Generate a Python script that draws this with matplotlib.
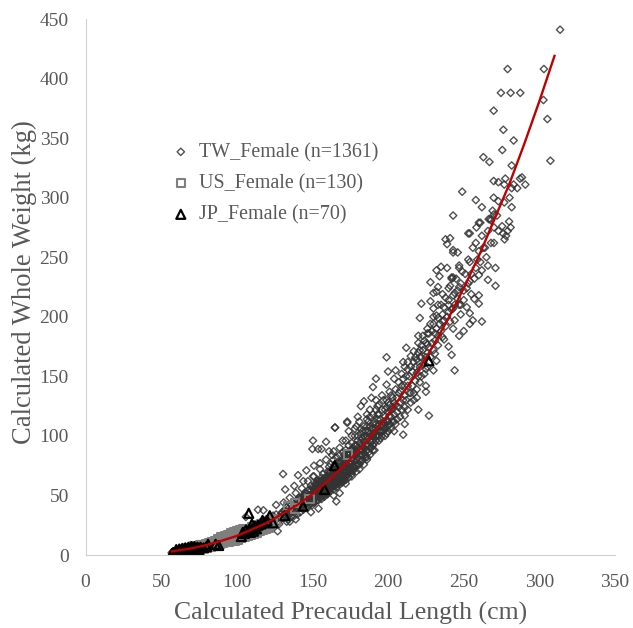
import matplotlib
matplotlib.use('Agg')
import matplotlib.pyplot as plt

plt.rcParams['font.family'] = ['Liberation Serif', 'DejaVu Serif']
GREY = '#595959'

# values (length cm, weight kg)
tw_high = [(313.7,441),(279,408),(303,408),(274.6,388),(281,388),(287.4,388),(302.7,382),(269.8,373),(305.3,366),
    (276.2,357),(283,348),(275.5,340),(263,334),(267,330),(307.3,331),(281.7,327),(269.8,314),(272.9,313),(277.5,316),
    (276.8,311),(283,311),(281.7,308),(285.4,308),(287.2,316),(288.5,317),(290.7,311),(249,305),(258,298),(269.8,300),
    (272.9,297),(276.8,296),(280.3,300),(281.7,292),(269.1,289),(243,285),(272,285),(266.5,282),(267.5,282),(261,279),
    (258.4,275),(280,280),(275.4,276),(270,275),(281,275),(276,270),(278,268),(279,272),(277,265),(270,262),(265,250),
    (268,281),(262,292)]
tw_upper = [(260,279),(253,270),(254,270),(238,265),(241,266),(239,261),(243,256),(246,254),(243,254),(260,255),(263,258),
    (254,246),(247,243),(247,241),(235,242),(239,241),(232,239),(234,234),(242,233),(242,232),(243,233),(262,239),
    (266,243),(271,241),(258,241),(260,235),(266,231),(254,230),(253,228),(228,229),(233,225),(240,224),(247,225),
    (271,226),(230,220),(232,221),(236,219),(244,220),(250,222),(255,219),(260,218),(257,215),(260,211),(246,215),
    (228,213),(222,211),(233,210),(240,210),(248,210),(252,208),(230,207),(243,207),(236,202),(240,204),(248,202),
    (254,203),(232,201),(221,199),(233,199),(237,197),(244,197),(256,197),(262,196),(254,194),(230,194),(243,190),
    (226,190),(250,188),(247,184),(220,184),(223,184),(226,186),(231,186),(236,183),(237,181),(233,176),(240,175),
    (220,178),(226,177),(212,174),(221,172),(217,171),(242,168),(199,166),(231,169),(215,167),(218,166),(222,166),
    (232,163),(213,162),(210,162),(211,158),(225,156),(230,155),(244,155),(200,154),(205,155),(219,153),(209,152),
    (192,148),(204,148),(221,145),(199,143),(190,141),(207,145),(225,142),(213,142),(219,139),(205,139),(225,137),
    (201,137),(215,136),(211,134),(184,129),(182,125),(193,125),(199,130),(217,130),(208,128),(220,122),(227,117),
    (180,116),(173,112),(165,107),(193,114),(201,117),(211,117),(204,112),(211,110),(210,101),(179,108),(183,104)]
tw_band = [(200,128),(198,122),(196,134),(194,118),(192,130),(190,110),(188,122),(186,114),(189,132),(197,112),(203,124),
    (206,120),(202,106),(199,102),(195,108),(192,100),(190,96),(187,104),(185,98),(183,92),(186,118),(181,112),(178,100),
    (176,94),(174,104),(172,88),(170,96),(168,84),(180,96),(177,86),(175,82),(173,76),(171,80),(169,72),(167,78),(165,70),
    (163,84),(161,74),(159,80),(157,68),(155,72),(153,62),(151,66),(149,58),(147,62),(145,52),(143,56),(141,48),(139,52),
    (137,44),(135,48),(133,40),(131,44),(182,84),(179,80),(176,74),(174,70),(172,66),(170,64),(168,62),(166,60),(164,58),
    (162,56),(160,54),(158,52),(156,50),(154,46),(152,48),(150,44),(148,42),(146,40),(144,38),(142,36),(140,34),(138,33),
    (136,32),(134,30),(178,92),(176,88),(174,84),(172,82),(170,76),(168,74),(166,66),(164,68),(162,64),(160,62),(158,60),
    (156,58),(154,56),(152,54),(150,52),(148,50),(146,48),(144,46),(142,44),(140,42),(138,40),(136,38),(134,36),(132,34),
    (184,86),(186,92),(188,90),(190,102),(192,106),(194,96),(196,104),(198,110),(200,112),(202,116),(204,104),(180,90),
    (178,76),(175,78),(173,72),(171,70),(169,68),(167,64),(165,64),(163,62),(161,60),(159,57),(157,55),(155,52),(153,50),
    (151,47),(149,46),(147,44),(145,43),(143,40),(141,39),(139,37),(137,36),(135,35),(133,32),(131,31),(129,30),(127,28),
    (165,76),(163,72),(161,68),(159,66),(157,62),(155,62),(153,58),(151,56),(149,54),(147,54),(145,50),(143,48),(160,70),
    (170,86),(168,90),(166,82),(164,80),(162,76),(174,92),(176,100),(178,106),(172,96),(188,108),(182,102),(184,108),
    (130.6,68),(150.4,96),(159,95),(164.8,107),(173,111),(150,89),(153.8,89),(156,89),(161,87),(164,87),(140.5,67),
    (146,71),(151,75),(155,77),(150.4,66),(132,55),(138,58),(144,62),(114,38),(117.6,37.5),(106,32),(127,20),(154,39),
    (149,36),(165.8,45),(164,50),(139,30),(135,28),(126,42),(168,52),(172,60),(176,68),(181,76),(186,82),(190,88)]
tw_dense = [(148,45),(149,49),(150,47),(151,51),(152,45),(153,53),(154,49),(155,55),(156,47),(157,59),(158,49),(158,57),
    (159,53),(159,61),(160,51),(160,58),(161,55),(161,64),(162,59),(162,67),(163,56),(163,65),(164,61),(164,71),(165,58),
    (165,67),(166,63),(166,72),(167,60),(167,69),(168,65),(168,77),(169,61),(169,75),(170,67),(170,79),(171,63),(171,74),
    (172,69),(172,78),(173,67),(173,81),(174,73),(174,86),(175,69),(175,85),(176,71),(176,81),(177,74),(177,90),(178,79),
    (178,88),(179,75),(179,92),(180,82),(180,100),(181,80),(181,94),(182,88),(182,106),(183,84),(183,98),(184,90),(184,100),
    (185,84),(185,104),(186,88),(186,108),(187,92),(187,112),(188,96),(188,116),(189,90),(189,106),(190,100),(190,118),
    (191,94),(191,112),(192,110),(192,122),(193,100),(193,118),(194,104),(194,126),(195,98),(195,114),(196,110),(196,122),
    (197,104),(197,130),(198,116),(198,106),(199,112),(199,124),(200,104),(200,120),(201,110),(201,126),(202,122),(202,134),
    (203,112),(203,132),(204,118),(204,128),(205,110),(205,126),(206,114),(206,132),(207,124),(207,136),(208,116),(208,138),
    (209,122),(209,142),(210,130),(210,148),(211,124),(211,142),(212,130),(212,150),(213,122),(213,156),(214,136),(214,150),
    (215,128),(215,158),(216,142),(216,154),(217,136),(217,162),(218,146),(218,158),(219,132),(219,164),(220,150),(220,170),
    (221,158),(221,166),(222,150),(222,176),(223,160),(223,172),(224,152),(224,180),(225,166),(225,178),(226,158),(226,170),
    (227,174),(227,186),(228,166),(228,194),(229,178),(229,188),(230,172),(230,200),(231,180),(232,190),(233,184),(234,194),
    (235,188),(235,210),(236,196),(237,208),(238,192),(238,216),(239,200),(240,214),(241,196),(241,226),(242,206),(243,218),
    (244,210),(245,232),(246,222),(247,210),(248,228),(249,238),(250,214),(251,236),(252,224),(253,248),(255,236),(256,258),
    (257,232),(258,262),(259,248),(261,246),(262,268),(264,258),(266,272),(268,262),(270,286),(273,272),
    (122,30),(123,27),(124,33),(125,29),(126,34),(127,31),(128,32),(129,34),(130,36),(131,34),(132,37),(133,36),(134,39),
    (135,38),(136,42),(137,40),(138,43),(139,42),(140,46),(141,44),(142,48),(143,46),(144,50),(145,47),(146,52),(147,49),
    (148,55),(149,51),(150,57),(151,53),(152,60),(153,55),(154,62),(155,58),(156,65),(157,57),(158,64),(159,62),(160,66)]
tw_core = [(140,39),(141,41),(142,40),(143,44),(144,42),(145,46),(146,44),(147,47),(148,47),(149,44),(150,50),(150,42),
    (151,55),(151,44),(152,50),(152,58),(153,46),(153,60),(154,52),(154,58),(155,48),(155,60),(156,53),(156,62),(157,50),
    (157,64),(158,55),(158,62),(159,51),(159,64),(160,56),(160,64),(161,53),(161,70),(162,61),(162,70),(163,58),(163,68),
    (164,55),(164,74),(165,61),(165,72),(166,57),(166,69),(167,62),(167,74),(168,59),(168,71),(169,65),(169,78),(170,61),
    (170,73),(171,66),(171,84),(172,63),(172,74),(173,70),(173,85),(174,65),(174,77),(175,72),(175,88),(176,78),(176,66),
    (177,71),(177,82),(178,73),(178,84),(179,70),(179,86),(180,76),(180,86),(181,72),(181,88),(182,78),(182,94),(183,80),
    (183,88),(184,76),(184,95),(185,82),(185,92),(186,80),(186,100),(187,86),(187,98),(188,84),(188,102),(189,95),(189,100),
    (190,92),(190,106),(191,88),(191,102),(192,96),(193,108),(194,100),(195,104),(196,100),(197,108),(198,100),(200,108)]
tw_low = [(57,2),(58,3),(59,2.5),(60,4),(61,3),(62,4.5),(63,3.5),(64,5),(65,4),(66,5.5),(67,4.5),(68,6),(69,5),(70,6.5),
    (71,5.5),(72,7),(73,6),(74,7.5),(75,6.5),(77,7.5),(79,8.5),(81,9),(83,9),(85,11),(87,10),(89,12),(91,11),(93,13),
    (95,12),(97,15),(99,14),(101,17),(103,15),(105,19),(107,17),(109,22),(111,19),(113,24),(115,21),(117,27),(119,23),
    (121,29),(123,25),(125,31),(128,26),(131,37),(133,28)]
us_points = [(66,5),(68,6),(70,5),(72,7),(74,6),(76,8),(78,7),(80,9),(80,6),(82,10),(82,7),(84,8),(84,11),(86,9),(86,12),
    (88,9),(88,13),(90,10),(90,13),(92,11),(92,14),(94,12),(94,15),(96,13),(96,16),(98,13),(98,17),(100,14),(100,18),
    (102,15),(102,19),(104,16),(104,20),(106,17),(106,21),(108,18),(108,22),(110,18),(110,23),(112,20),(112,24),(114,21),
    (114,25),(116,22),(116,26),(118,23),(118,27),(120,24),(120,28),(122,25),(122,29),(124,27),(124,30),(126,28),(134,41),
    (138.7,43.8),(138.7,38.9),(148,47),(173.6,84.5),(85,8),(87,11),(89,11),(91,12),(93,13),(95,14),(97,15),(99,16),(101,16),
    (103,17),(105,18),(107,20),(109,21),(111,21),(113,23),(115,23),(117,25),(119,25),(121,27),(123,28),(83,7),(85,10),(87,8),
    (89,9),(91,10),(93,11),(95,11),(97,12),(99,12),(101,13),(103,14),(105,15),(107,16),(109,17),(111,18),(113,19),(115,20),
    (117,21),(119,22),(121,23),(90,15),(92,15.5),(94,17),(96,18),(98,19),(100,20),(102,21),(104,22)]
jp_points = [(107.9,35),(121.8,33),(131.7,33),(143.8,41),(158,55),(164.7,75),(124,27),(106,21),(114,25),(103,15.5),(86,9),
    (81,9),(227,163),(57,1),(58,2),(59,1.5),(60,3),(61,2),(62,3.5),(63,2.5),(64,4),(65,3),(66,4.5),(67,3.5),(68,5),(69,4),
    (70,5.5),(71,4.5),(72,6),(73,5),(75,5.5),(78,6),(104,19),(108,21),(110,22),(112,24),(116,26),(118,27),(120,29),
    (60,4.5),(62,5),(64,5.5),(66,6),(68,6.5),(70,7),(72,7),(74,6.5),(76,6.5),(80,7),(88,8),(105,18),(109,19),(113,22),
    (65,2.5),(67,2.5),(69,3),(71,3),(73,3.5),(75,4),(110,26),(117,29),(111,20)]

# red trend line read along its length
line_x = [57,60,70,80,90,100,110,120,130,140,150,160,170,180,190,200,210,220,230,240,250,260,270,280,290,300,310]
line_y = [3,3.6,5.6,8.4,12,16,21.5,27,34.5,42,51,62,74,87,102,118,136,155,176,199,224,251,281,311,345,381,419]

x_ticks = [0,50,100,150,200,250,300,350]
y_ticks = [0,50,100,150,200,250,300,350,400,450]

tw_x, tw_y = zip(*(tw_high + tw_upper + tw_band + tw_dense + tw_core + tw_low))
us_x, us_y = zip(*us_points)
jp_x, jp_y = zip(*jp_points)

fig = plt.figure(figsize=(6.33, 6.28), dpi=100)
ax = fig.add_axes([85.5/633, (628-555)/628, (615-85.5)/633, (555-19)/628])

ax.scatter(tw_x, tw_y, marker='D', s=14, facecolors='none', edgecolors='#333333', linewidths=1.0, alpha=0.85, label='TW_Female (n=1361)')
ax.scatter(us_x, us_y, marker='s', s=36, facecolors='none', edgecolors='#7f7f7f', linewidths=1.5, label='US_Female (n=130)')
ax.scatter(jp_x, jp_y, marker='^', s=42, facecolors='none', edgecolors='black', linewidths=1.6, label='JP_Female (n=70)')
ax.plot(line_x, line_y, color='#c00000', lw=1.7)

ax.set_xlim(0, 350)
ax.set_ylim(0, 450)
ax.set_xticks(x_ticks)
ax.set_yticks(y_ticks)
ax.tick_params(length=0, labelsize=14, labelcolor=GREY)
ax.tick_params(axis='x', pad=13.5)
ax.tick_params(axis='y', pad=12)
ax.set_xlabel('Calculated Precaudal Length (cm)', fontsize=18.5, color=GREY, labelpad=8)
ax.set_ylabel('Calculated Whole Weight (kg)', fontsize=19.2, color=GREY, labelpad=2, y=0.51)

for side in ['top', 'right']:
    ax.spines[side].set_visible(False)
for side in ['left', 'bottom']:
    ax.spines[side].set_color('#d0d0d0')

ax.legend(loc='upper left', bbox_to_anchor=(0.163, 0.769), frameon=False, fontsize=14.4, labelcolor=GREY,
          labelspacing=0.6, handlelength=0.9, handletextpad=0.45, borderpad=0, borderaxespad=0)

fig.savefig('out.png', dpi=100)
